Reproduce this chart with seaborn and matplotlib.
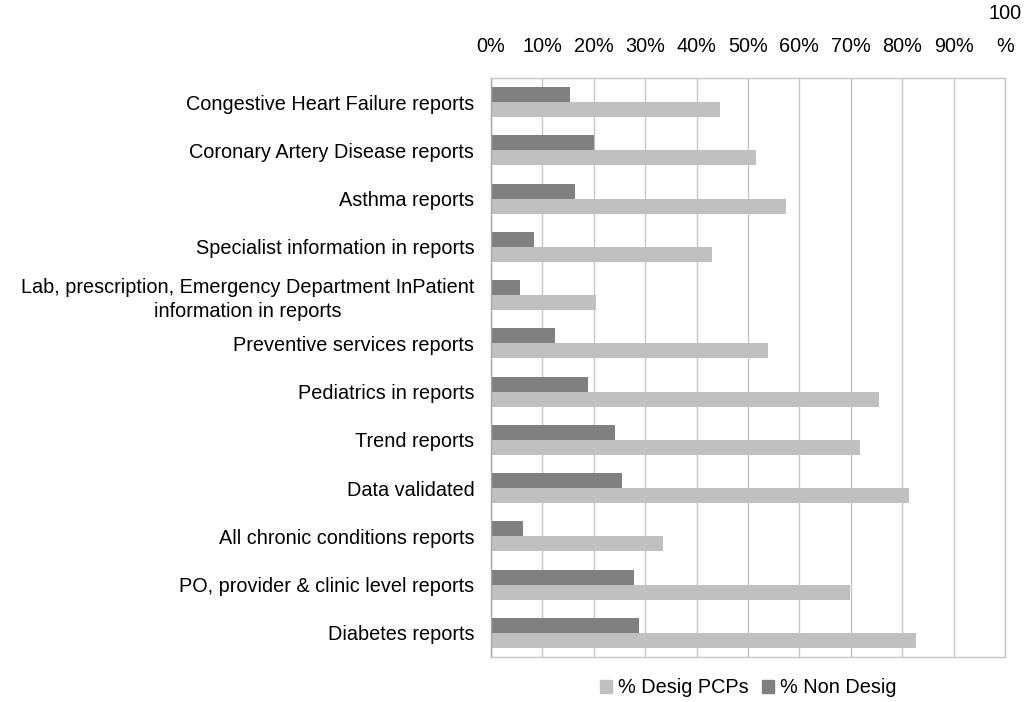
import matplotlib
matplotlib.use('Agg')
import matplotlib.pyplot as plt
from matplotlib.patches import Patch
from matplotlib.ticker import FixedLocator
import pandas as pd
import seaborn as sns

# Categories, top to bottom as in the chart
categories = [
    'Congestive Heart Failure reports',
    'Coronary Artery Disease reports',
    'Asthma reports',
    'Specialist information in reports',
    'Lab, prescription, Emergency Department InPatient\ninformation in reports',
    'Preventive services reports',
    'Pediatrics in reports',
    'Trend reports',
    'Data validated',
    'All chronic conditions reports',
    'PO, provider & clinic level reports',
    'Diabetes reports',
]
# Values in percent
desig_pcps = [44.6, 51.6, 57.3, 42.9, 20.5, 53.8, 75.5, 71.7, 81.4, 33.4, 69.8, 82.6]
non_desig = [15.3, 20.1, 16.4, 8.4, 5.7, 12.5, 18.9, 24.2, 25.4, 6.3, 27.9, 28.7]
x_ticks = [0, 10, 20, 30, 40, 50, 60, 70, 80, 90, 100]
x_tick_labels = ['0%', '10%', '20%', '30%', '40%', '50%', '60%', '70%', '80%', '90%', '100\n%']

# Long format for seaborn
df = pd.DataFrame({
    'Category': categories * 2,
    'Value': non_desig + desig_pcps,
    'Series': ['% Non Desig'] * len(categories) + ['% Desig PCPs'] * len(categories),
})

sns.set_style('white')
plt.rcParams['font.family'] = ['Liberation Sans', 'DejaVu Sans']
plt.rcParams['text.color'] = 'black'
plt.rcParams['xtick.color'] = 'black'
plt.rcParams['ytick.color'] = 'black'

dark = '#808080'
light = '#C0C0C0'
grid_col = '#C6C6C6'
fs = 14.3

fig = plt.figure(figsize=(10.29, 7.02), dpi=100)
ax = fig.add_axes([0.4772, 0.0641, 0.4995, 0.8248])

sns.barplot(data=df, x='Value', y='Category', hue='Series', order=categories,
            hue_order=['% Non Desig', '% Desig PCPs'], palette=[dark, light],
            width=0.62, gap=0, orient='h', legend=False, ax=ax, saturation=1,
            linewidth=0)

ax.set_xlim(0, 100)
ax.set_ylim(len(categories) - 0.5, -0.5)
ax.xaxis.tick_top()
ax.set_xticks(x_ticks)
ax.set_xticklabels(x_tick_labels, fontsize=fs, linespacing=1.9)
ax.tick_params(axis='x', length=0, pad=16)
ax.grid(axis='x', color=grid_col, linewidth=1)
ax.set_axisbelow(True)
ax.set_xlabel('')
ax.set_ylabel('')

# y tick labels without marks, small marks at category boundaries
ax.tick_params(axis='y', which='major', length=0, pad=12, labelsize=fs)
for lab in ax.get_yticklabels():
    lab.set_linespacing(1.3)
    lab.set_multialignment('center')
ax.yaxis.set_minor_locator(FixedLocator([i - 0.5 for i in range(len(categories) + 1)]))
ax.tick_params(axis='y', which='minor', length=6, width=1, color='#B0B0B0', direction='out')

for side in ['top', 'right', 'bottom', 'left']:
    ax.spines[side].set_color(grid_col)
    ax.spines[side].set_linewidth(1)
ax.spines['left'].set_color('#A8A8A8')

handles = [Patch(color=light, label='% Desig PCPs'), Patch(color=dark, label='% Non Desig')]
fig.legend(handles=handles, loc='center', bbox_to_anchor=(0.727, 0.02), ncol=2,
           frameon=False, fontsize=fs, handlelength=0.6, handleheight=0.6,
           handletextpad=0.3, columnspacing=0.7)

fig.savefig('out.png', dpi=100)
